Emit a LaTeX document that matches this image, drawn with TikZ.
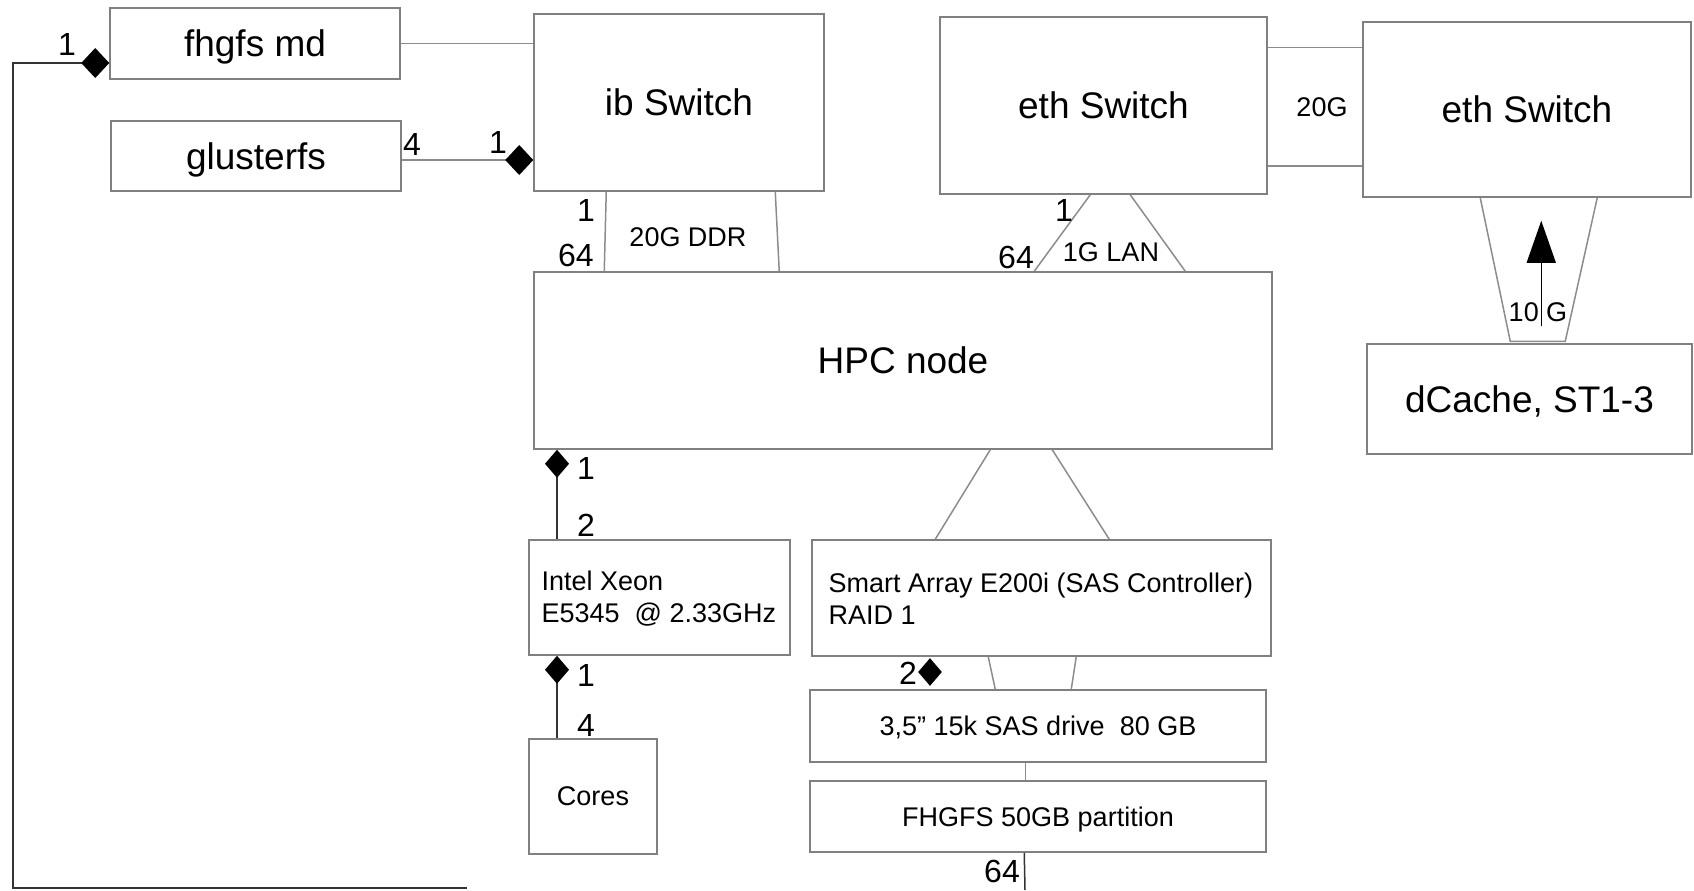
\documentclass[tikz,border=0pt]{standalone}
\usepackage{fontspec}
\setmainfont{Liberation Sans}
\usetikzlibrary{arrows.meta,calc,shapes.geometric}
\newcommand\fontbig{\fontsize{18.5}{22}\selectfont}
\newcommand\fontsmall{\fontsize{13.5}{16}\selectfont}
\newcommand\fontnum{\fontsize{16}{19}\selectfont}
\definecolor{boxgray}{gray}{0.5}
\definecolor{linegray}{gray}{0.55}
\begin{document}
\begin{tikzpicture}[x=0.5pt,y=-0.5pt,
  box/.style={draw=boxgray, line width=0.75pt, inner sep=0pt, text depth=0pt, font=\fontbig},
  smallbox/.style={box, font=\fontsmall},
  boxtext/.style={font=\fontsmall, align=left, anchor=west, inner sep=0pt},
  conn/.style={draw=linegray, line width=0.75pt},
  darkconn/.style={draw=black!80, line width=0.75pt},
  num/.style={font=\fontnum, inner sep=0pt},
  lbl/.style={font=\fontsmall, inner sep=0pt},
  hdia/.tip={Diamond[length=14pt,width=15pt,color=black]},
  vdia/.tip={Diamond[length=14pt,width=12pt,color=black]}]
\useasboundingbox (0,0) rectangle (1694,890);

% boxes
\node[box, minimum width=145pt, minimum height=35.5pt] (fhgfs) at (255,43.5) {fhgfs md};
\node[box, minimum width=145pt, minimum height=35pt] (gluster) at (256,156) {glusterfs};
\node[box, minimum width=145pt, minimum height=88.5pt] (ib) at (679,102.5) {ib Switch};
\node[box, minimum width=163.5pt, minimum height=88.5pt] (ethA) at (1103.5,105.5) {eth Switch};
\node[box, minimum width=164pt, minimum height=87.5pt] (ethB) at (1527,109.5) {eth Switch};
\node[box, minimum width=162.5pt, minimum height=55pt] (dcache) at (1529.5,399) {dCache, ST1-3};
\node[box, minimum width=369pt, minimum height=88.5pt] (hpc) at (903,360.5) {HPC node};
\node[box, minimum width=130.5pt, minimum height=57.5pt] (xeon) at (659.5,597.5) {};
\node[boxtext] (xeontext) at ($(xeon.west)+(13,1)$) {Intel Xeon\\E5345\ \ @ 2.33GHz};
\node[box, minimum width=229.5pt, minimum height=58pt] (raid) at (1041.5,598) {};
\node[boxtext] (raidtext) at ($(raid.west)+(17,1)$) {Smart Array E200i (SAS Controller)\\RAID 1};
\node[smallbox, minimum width=228pt, minimum height=36pt] (sas) at (1038,726) {3,5” 15k SAS drive\ \ 80 GB};
\node[smallbox, minimum width=228pt, minimum height=35.5pt] (part) at (1038,816.5) {FHGFS 50GB partition};
\node[smallbox, minimum width=64pt, minimum height=57.5pt] (cores) at (593,796.5) {Cores};

% free ends and corners
\coordinate (loopcorner) at (13,888);
\coordinate (loopend) at (467,888);
\coordinate (partend) at (1025,890);
\coordinate (cpux) at (557,0);

% fhgfs md and glusterfs to ib Switch
\draw[conn] (fhgfs.east) -- (fhgfs.east -| ib.west);
\draw[conn, -{hdia}] ($(gluster.east)+(0,4)$) -- ($(gluster.east -| ib.west)+(0,4)$);
\draw[darkconn, {hdia}-] ($(fhgfs.west)+(0,19.5)$) -| (loopcorner) -- (loopend);
\draw[darkconn] ($(part.south west)+(215,0)$) -- (partend);

% ib Switch to HPC node
\draw[conn] ($(ib.south west)+(73,0)$) -- ($(hpc.north west)+(71,0)$);
\draw[conn] ($(ib.south west)+(242,0)$) -- ($(hpc.north west)+(246,0)$);

% eth Switch to HPC node
\draw[conn] ($(ethA.south west)+(151,0)$) -- ($(hpc.north west)+(501,0)$);
\draw[conn] ($(ethA.south west)+(191,0)$) -- ($(hpc.north west)+(652,0)$);

% eth Switch to eth Switch
\draw[conn] ($(ethA.north east)+(0,31)$) -- ($(ethA.north east -| ethB.west)+(0,31)$);
\draw[conn] ($(ethA.south east)+(0,-29)$) -- ($(ethA.south east -| ethB.west)+(0,-29)$);

% eth Switch to dCache
\draw[conn] ($(ethB.south west)+(118,0)$) -- ($(dcache.north west)+(144,-2)$)
  -- ($(dcache.north west)+(199,-2)$) -- ($(ethB.south west)+(235,0)$);
\draw[line width=0.75pt, -{Triangle[length=21pt,width=14.5pt]}] ($(dcache.north west)+(175,-17)$) -- ($(ethB.south west)+(179,23)$);

% HPC node to processor and controller
\draw[conn] ($(hpc.south west)+(457,0)$) -- ($(raid.north west)+(124,0)$);
\draw[conn] ($(hpc.south west)+(519,0)$) -- ($(raid.north west)+(298,0)$);
\draw[darkconn, {vdia}-] (cpux |- hpc.south) -- (cpux |- xeon.north);
\draw[darkconn, {vdia}-] (cpux |- xeon.south) -- (cpux |- cores.north);

% controller to drive, drive to partition
\draw[conn] ($(raid.south west)+(177,0)$) -- ($(sas.north west)+(186,0)$);
\draw[conn] ($(raid.south west)+(265,0)$) -- ($(sas.north west)+(262,0)$);
\node[diamond, fill=black, inner sep=0pt, minimum width=12pt, minimum height=14pt] (raidmark) at (930,672) {};
\draw[conn] ($(sas.south west)+(216,0)$) -- ($(part.north west)+(216,0)$);

% multiplicities
\node[num] at (67,44) {1};
\node[num] at (412,144) {4};
\node[num] at (498,142) {1};
\node[num] at (586,210) {1};
\node[num] at (576,255) {64};
\node[num] at (1064,210) {1};
\node[num] at (1016,257) {64};
\node[num] at (586,468) {1};
\node[num] at (586,525) {2};
\node[num] at (586,675) {1};
\node[num] at (586,725) {4};
\node[num] at (908,673) {2};
\node[num] at (1002,871) {64};

% link labels
\node[lbl] at (688,237) {20G DDR};
\node[lbl] at (1111,252) {1G LAN};
\node[lbl] at (1322,107) {20G};
\node[lbl] at (1538,312) {10 G};
\end{tikzpicture}
\end{document}
